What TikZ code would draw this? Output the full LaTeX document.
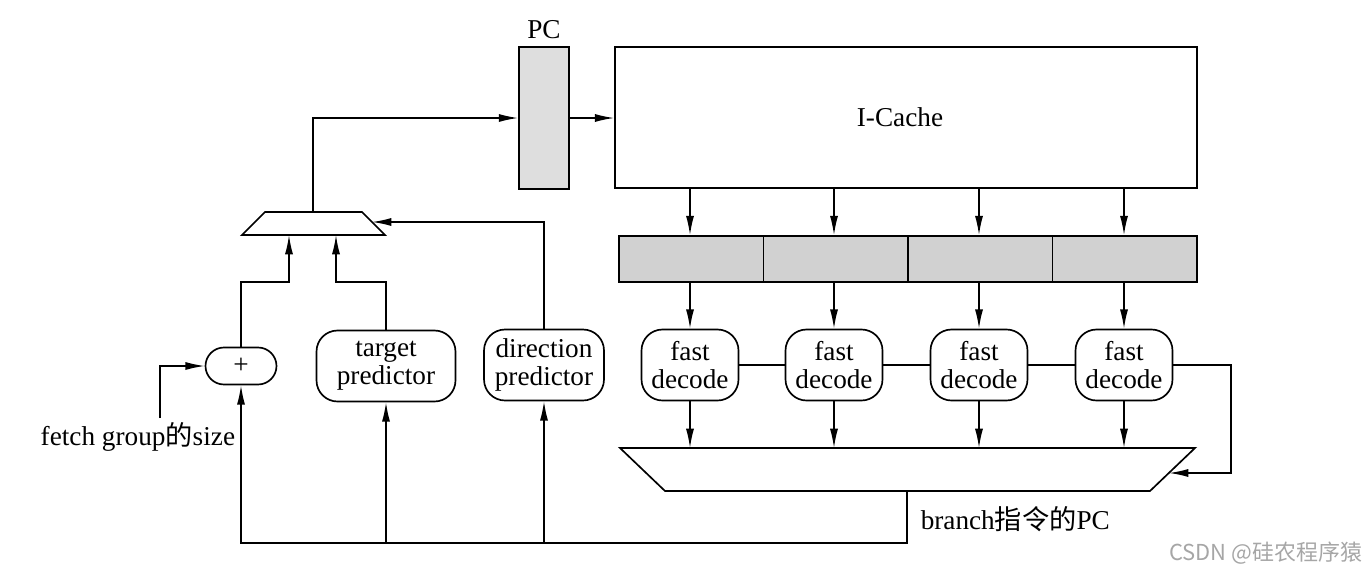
\documentclass[tikz,border=0pt]{standalone}
\usepackage{fontspec}
\setmainfont{Liberation Serif}
\newfontfamily\cjk{Noto Sans CJK SC}
\usetikzlibrary{arrows.meta}
\begin{document}
\begin{tikzpicture}[x=0.02cm,y=-0.02cm, line width=0.85pt,
  >={Latex[length=11pt,width=4.6pt]},
  font=\fontsize{15.5}{16}\selectfont,
  rbox/.style={draw, line width=0.95pt, rounded corners=0.42cm, minimum height=1.42cm, align=center, inner sep=0pt},
  fdbox/.style={rbox, minimum width=1.94cm},
  latch/.style={draw, line width=0.95pt, fill=black!18, minimum width=2.89cm, minimum height=0.92cm, inner sep=0pt},
  plain/.style={inner sep=0pt}
]
\useasboundingbox (0,0) rectangle (1370,578);

% PC register and I-Cache
\node[draw, line width=0.95pt, fill=black!13, minimum width=1.0cm, minimum height=2.84cm, inner sep=0pt] (pc) at (544,118) {};
\node[plain] (pclbl) at (544,30) {PC};
\node[draw, line width=0.95pt, minimum width=11.64cm, minimum height=2.82cm, inner sep=0pt] (icache) at (906,117.5) {};
\node[plain] (iclbl) at (900,117) {I-Cache};

% latch row
\node[latch] (l1) at (691.25,259) {};
\node[latch] (l2) at (835.75,259) {};
\node[latch] (l3) at (980.25,259) {};
\node[latch] (l4) at (1124.75,259) {};

% fast decoders
\node[fdbox] (fd1) at (690,365) {fast\\decode};
\node[fdbox] (fd2) at (834,365) {fast\\decode};
\node[fdbox] (fd3) at (979,365) {fast\\decode};
\node[fdbox] (fd4) at (1124,365) {fast\\decode};

% predictors and adder
\node[rbox, minimum width=2.78cm] (tp) at (386,366) {target\\predictor};
\node[rbox, minimum width=2.4cm] (dp) at (544,365) {direction\\predictor};
\node[draw, line width=0.95pt, rounded corners=0.37cm, minimum width=1.42cm, minimum height=0.74cm, inner sep=0pt] (plus) at (241,366) {+};

% top-left mux
\draw[line width=0.95pt] (265,212) -- (362,212) -- (385,235) -- (242,235) -- cycle;
\coordinate (mout) at (313,212);
\coordinate (min1) at (289,235);
\coordinate (min2) at (336,235);
\coordinate (msel) at (372,222);

% bottom mux
\draw[line width=0.95pt] (620,448) -- (1195,448) -- (1150,491) -- (665,491) -- cycle;
\coordinate (bout) at (907,491);
\coordinate (bsel) at (1169,473);

% labels
\node[plain, anchor=west] (fgs) at (40,437) {fetch group{\cjk 的}size};
\coordinate (fgtop) at (160,418);
\node[plain, anchor=west] (bpc) at (920,519) {branch{\cjk 指令的}PC};
\node[plain, anchor=east, text=black!35, font=\cjk\fontsize{12.5}{14}\selectfont] (wm) at (1363,553) {CSDN @硅农程序猿};

% connectors
\draw[->] (mout) -- (313,118) -- (pc.west);
\draw[->] (pc.east) -- (icache.west |- pc.east);
\foreach \i in {1,2,3,4} {
  \draw[->] (fd\i |- icache.south) -- (fd\i |- l\i.north);
  \draw[->] (fd\i |- l\i.south) -- (fd\i.north);
  \draw[->] (fd\i.south) -- (fd\i |- 0,448);
}
\draw (fd1.east) -- (fd2.west);
\draw (fd2.east) -- (fd3.west);
\draw (fd3.east) -- (fd4.west);
\draw[->] (fd4.east) -- (1231,365) -- (1231,473) -- (bsel);

\draw[->] (bout) -- (907,543) -- (241,543) -- (plus.south);
\draw[->] (tp.south |- 0,543) -- (tp.south);
\draw[->] (dp.south |- 0,543) -- (dp.south);

\draw[->] (plus.north) -- (241,282) -- (289,282) -- (min1);
\draw[->] (tp.north) -- (386,282) -- (336,282) -- (min2);
\draw[->] (dp.north) -- (544,222) -- (msel);
\draw[->] (fgtop) -- (160,366) -- (plus.west);
\end{tikzpicture}
\end{document}
